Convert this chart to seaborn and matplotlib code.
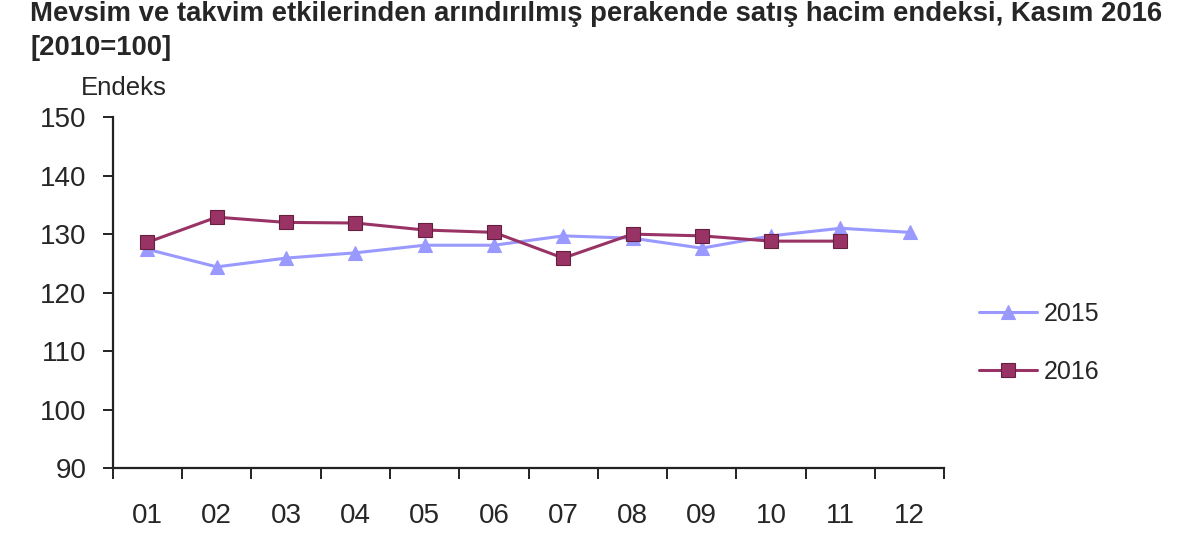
import numpy as np
import pandas as pd
import matplotlib.pyplot as plt
import seaborn as sns
from matplotlib.ticker import FixedLocator

# --- data ---
months = ["01", "02", "03", "04", "05", "06", "07", "08", "09", "10", "11", "12"]
vals_2015 = [127.4, 124.4, 125.9, 126.8, 128.1, 128.1, 129.7, 129.3, 127.6, 129.7, 131.0, 130.3]
vals_2016 = [128.6, 132.9, 132.0, 131.9, 130.7, 130.3, 125.9, 130.0, 129.7, 128.8, 128.8]
y_ticks = [90, 100, 110, 120, 130, 140, 150]

df = pd.concat([
    pd.DataFrame({"ay": months, "endeks": vals_2015, "yil": "2015"}),
    pd.DataFrame({"ay": months[:len(vals_2016)], "endeks": vals_2016, "yil": "2016"}),
], ignore_index=True)
df["pos"] = df["ay"].map({m: i for i, m in enumerate(months)})

sns.set_style("white")
plt.rcParams['font.family'] = ['Liberation Sans', 'DejaVu Sans']

fig = plt.figure(figsize=(12, 5.5), dpi=100)
ax = fig.add_axes([0.094, 0.149, 0.693, 0.638])

palette = {"2015": "#9999FF", "2016": "#993366"}
sns.lineplot(data=df, x="pos", y="endeks", hue="yil", style="yil",
             markers={"2015": "^", "2016": "s"}, dashes=False,
             palette=palette, linewidth=2.2, markersize=10, ax=ax,
             markeredgecolor="#66203f", markeredgewidth=0.8, sort=False)

# 2015 markers keep a light edge
for line in ax.get_lines():
    if line.get_marker() == "^":
        line.set_markeredgecolor("#9999FF")

ax.set_xlim(-0.5, len(months) - 0.5)
ax.set_ylim(90, 150)
ax.set_yticks(y_ticks)
ax.set_yticklabels([str(v) for v in y_ticks], fontsize=20)
ax.set_xticks(range(len(months)))
ax.set_xticklabels(months, fontsize=20)
ax.xaxis.set_minor_locator(FixedLocator(np.arange(-0.5, len(months), 1.0)))
ax.tick_params(axis="x", which="major", length=0, pad=25, bottom=True)
ax.tick_params(axis="x", which="minor", length=8, width=1.4, direction="out",
               color="#222222", bottom=True)
ax.tick_params(axis="y", which="major", length=7, width=1.4, direction="out",
               pad=12, color="#222222", left=True)
ax.set_xlabel("")
ax.set_ylabel("")

for side in ["top", "right"]:
    ax.spines[side].set_visible(False)
for side in ["left", "bottom"]:
    ax.spines[side].set_linewidth(1.6)
    ax.spines[side].set_color("#222222")

fig.text(0.025, 0.998, "Mevsim ve takvim etkilerinden arındırılmış perakende satış hacim endeksi, Kasım 2016\n[2010=100]",
         fontsize=19.8, fontweight="bold", va="top", ha="left", linespacing=1.38)
fig.text(0.067, 0.84, "Endeks", fontsize=18.5, va="center", ha="left")

handles, labels = ax.get_legend_handles_labels()
ax.get_legend().remove()
fig.legend(handles, labels, loc="center left", bbox_to_anchor=(0.816, 0.377),
           bbox_transform=fig.transFigure, frameon=False, borderaxespad=0, borderpad=0,
           fontsize=18, labelspacing=1.36, handlelength=2.3, handletextpad=0.3)

fig.savefig("out.png", dpi=100)
